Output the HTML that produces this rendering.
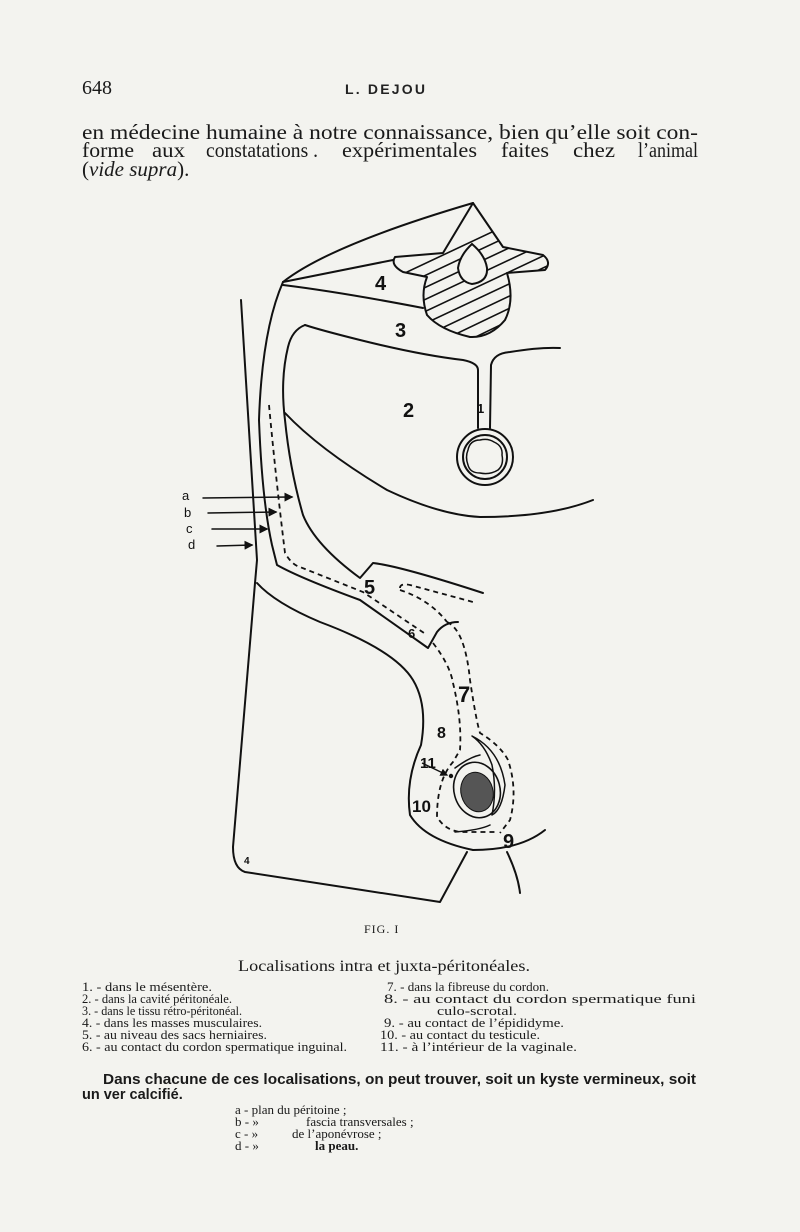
<!DOCTYPE html>
<html><head><meta charset="utf-8"><style>
html,body{margin:0;padding:0;background:#f3f3ef;}
svg{display:block}
.s{font-family:"Liberation Serif",serif;fill:#1a1a1a}
.ss{font-family:"Liberation Sans",sans-serif;fill:#1a1a1a}
.h{font-family:"Liberation Sans",sans-serif;fill:#222;font-weight:bold}
</style></head><body>
<svg width="800" height="1232" viewBox="0 0 800 1232" xmlns="http://www.w3.org/2000/svg">
<defs>
<clipPath id="vc"><path d="M473,203 L503,247 L543,255 Q552,262 545,270 L507,273 Q515,300 505,320 Q490,338 470,337 Q440,330 427,315 Q420,295 427,277 L403,272 Q390,265 395,257 L443,253 Z"/></clipPath>
<marker id="ah" markerWidth="6" markerHeight="6" refX="5" refY="3" orient="auto"><path d="M0,0 L6,3 L0,6 Z" fill="#111"/></marker>
</defs>
<rect width="800" height="1232" fill="#f3f3ef"/>
<text class="s" x="82" y="94" font-size="20">648</text>
<text class="h" x="345" y="94" font-size="14" textLength="80">L. DEJOU</text>
<text class="s" x="82" y="139" font-size="21" textLength="616" lengthAdjust="spacingAndGlyphs">en médecine humaine à notre connaissance, bien qu’elle soit con-</text>
<g class="s" font-size="21">
<text x="82" y="157" textLength="52" lengthAdjust="spacingAndGlyphs">forme</text>
<text x="152" y="157" textLength="33" lengthAdjust="spacingAndGlyphs">aux</text>
<text x="206" y="157" textLength="112" lengthAdjust="spacingAndGlyphs">constatations .</text>
<text x="342" y="157" textLength="135" lengthAdjust="spacingAndGlyphs">expérimentales</text>
<text x="501" y="157" textLength="48" lengthAdjust="spacingAndGlyphs">faites</text>
<text x="573" y="157" textLength="42" lengthAdjust="spacingAndGlyphs">chez</text>
<text x="638" y="157" textLength="60" lengthAdjust="spacingAndGlyphs">l’animal</text>
</g>
<text class="s" x="82" y="176" font-size="21">(<tspan font-style="italic">vide supra</tspan>).</text>

<g fill="none" stroke="#111" stroke-width="2" stroke-linecap="round" stroke-linejoin="round">
<path d="M283,282 Q330,245 473,203"/>
<path d="M283,282 L393,260"/>
<path d="M283,285 Q340,292 423,308"/>
<path d="M473,203 L503,247 L543,255 Q552,262 545,270 L507,273 Q515,300 505,320 Q490,338 470,337 Q440,330 427,315 Q420,295 427,277 L403,272 Q390,265 395,257 L443,253 Z" fill="#f3f3ef"/>
<path d="M283,282 Q262,330 259,420 Q262,500 272,545 L277,565 Q300,578 360,600 L428,648 L437,632 Q445,622 458,622"/>
<path d="M241,300 L257,560 L255,583 L233,847 Q233,868 245,872 L440,902 L467,852"/>
<path d="M257,583 Q275,603 320,622 Q395,650 413,680 Q428,705 421,745 Q405,780 410,815 Q425,840 473,850 Q520,850 545,830"/>
<path d="M507,852 Q518,875 520,893"/>
<path d="M305,325 Q292,330 288,347 Q280,380 285,420 Q290,470 303,515 Q315,545 360,578 L373,563 Q400,566 483,593"/>
<path d="M305,325 Q320,330 360,340 Q420,355 463,360 Q478,363 478,370 L478,428"/>
<path d="M490,428 L491,365 Q494,353 510,352 Q540,347 560,348"/>
<path d="M285,413 Q320,450 387,490 Q440,515 480,517 Q550,517 593,500"/>
<circle cx="485" cy="457" r="28"/>
<circle cx="485" cy="457" r="22"/>
<path d="M468,450 Q470,440 480,440 Q488,438 494,442 Q503,446 502,455 Q504,465 498,470 Q490,475 480,473 Q470,473 468,465 Q465,457 468,450 Z" stroke-width="1.5"/>
<g stroke-width="1.5" marker-end="url(#ah)">
<path d="M203,498 L292,497"/><path d="M208,513 L276,512"/><path d="M212,529 L267,529"/><path d="M217,546 L252,545"/>
</g>
<ellipse cx="477" cy="790" rx="23" ry="28" transform="rotate(-15 477 790)" stroke-width="1.6"/>
<ellipse cx="477" cy="792" rx="16" ry="20" transform="rotate(-15 477 792)" fill="#555" stroke-width="1"/>
<path d="M472,736 Q500,750 505,785 Q502,810 492,815 Q497,790 492,765 Q485,745 472,736 Z" stroke-width="1.5"/>
<path d="M455,768 Q470,757 480,755 M455,832 Q480,830 490,825" stroke-width="1.5"/>
</g>
<g stroke="#111" stroke-width="1.6" clip-path="url(#vc)">
<path d="M390,280 L560,200 M390,292 L560,212 M390,304 L560,224 M390,316 L560,236 M390,328 L560,248 M390,340 L560,260 M400,348 L560,272 M410,356 L560,284 M420,364 L560,296"/>
</g>
<path d="M472,244 Q460,255 458,268 Q460,282 472,284 Q488,282 487,268 Q485,255 472,244 Z" fill="#f3f3ef" stroke="#111" stroke-width="2"/>
<g fill="none" stroke="#111" stroke-width="1.8" stroke-dasharray="5,4">
<path d="M269,405 Q276,480 285,553 Q292,565 300,567 L363,592 L427,635"/>
<path d="M433,643 Q450,665 453,683 Q462,720 460,750 L453,762 Q437,780 437,817 Q445,830 460,832 L497,832"/>
<path d="M447,622 Q465,630 470,680 Q476,720 480,733 Q500,745 508,760 Q518,790 510,820 L500,833"/>
<path d="M400,588 Q400,583 410,585 L473,602"/>
<path d="M400,590 Q430,600 447,622"/>
</g>
<circle cx="451" cy="776" r="2.2" fill="#111"/>
<path d="M422,763 L447,775" stroke="#111" stroke-width="1.3" marker-end="url(#ah)"/>
<g font-family="Liberation Sans,sans-serif" fill="#111" font-weight="bold">
<text x="375" y="290" font-size="20">4</text>
<text x="395" y="337" font-size="20">3</text>
<text x="403" y="417" font-size="20">2</text>
<text x="477" y="413" font-size="13">1</text>
<text x="364" y="594" font-size="20">5</text>
<text x="408" y="638" font-size="13">6</text>
<text x="458" y="702" font-size="22">7</text>
<text x="437" y="738" font-size="16">8</text>
<text x="420" y="768" font-size="15">11</text>
<text x="412" y="812" font-size="17">10</text>
<text x="503" y="848" font-size="20">9</text>
<text x="244" y="864" font-size="10">4</text>
<text x="182" y="500" font-size="13" font-weight="normal">a</text>
<text x="184" y="517" font-size="13" font-weight="normal">b</text>
<text x="186" y="533" font-size="13" font-weight="normal">c</text>
<text x="188" y="549" font-size="13" font-weight="normal">d</text>
</g>
<text class="s" x="364" y="933" font-size="12" letter-spacing="1">FIG. I</text>
<text class="s" x="238" y="971" font-size="16" textLength="292" lengthAdjust="spacingAndGlyphs">Localisations intra et juxta-péritonéales.</text>
<g class="s" font-size="13">
<text x="82" y="991" textLength="130" lengthAdjust="spacingAndGlyphs">1. - dans le mésentère.</text>
<text x="82" y="1003" textLength="150" lengthAdjust="spacingAndGlyphs">2. - dans la cavité péritonéale.</text>
<text x="82" y="1015" textLength="160" lengthAdjust="spacingAndGlyphs">3. - dans le tissu rétro-péritonéal.</text>
<text x="82" y="1027" textLength="180" lengthAdjust="spacingAndGlyphs">4. - dans les masses musculaires.</text>
<text x="82" y="1039" textLength="185" lengthAdjust="spacingAndGlyphs">5. - au niveau des sacs herniaires.</text>
<text x="82" y="1051" textLength="265" lengthAdjust="spacingAndGlyphs">6. - au contact du cordon spermatique inguinal.</text>
<text x="387" y="991" textLength="162" lengthAdjust="spacingAndGlyphs">7. - dans la fibreuse du cordon.</text>
<text x="384" y="1003" textLength="312" lengthAdjust="spacingAndGlyphs">8. - au contact du cordon spermatique funi</text>
<text x="437" y="1015" textLength="80" lengthAdjust="spacingAndGlyphs">culo-scrotal.</text>
<text x="384" y="1027" textLength="180" lengthAdjust="spacingAndGlyphs">9. - au contact de l’épididyme.</text>
<text x="380" y="1039" textLength="160" lengthAdjust="spacingAndGlyphs">10. - au contact du testicule.</text>
<text x="380" y="1051" textLength="197" lengthAdjust="spacingAndGlyphs">11. - à l’intérieur de la vaginale.</text>
</g>
<text class="ss" x="103" y="1084" font-size="14.5" font-weight="bold" textLength="593" lengthAdjust="spacingAndGlyphs" fill="#222">Dans chacune de ces localisations, on peut trouver, soit un kyste vermineux, soit</text>
<text class="ss" x="82" y="1099" font-size="14.5" font-weight="bold" fill="#222">un ver calcifié.</text>
<g class="s" font-size="13">
<text x="235" y="1114">a - plan du péritoine ;</text>
<text x="235" y="1126">b -  »</text><text x="306" y="1126">fascia transversales ;</text>
<text x="235" y="1138">c -  »</text><text x="292" y="1138">de l’aponévrose ;</text>
<text x="235" y="1150">d -  »</text><text x="315" y="1150" font-weight="bold">la peau.</text>
</g>
</svg>
</body></html>
